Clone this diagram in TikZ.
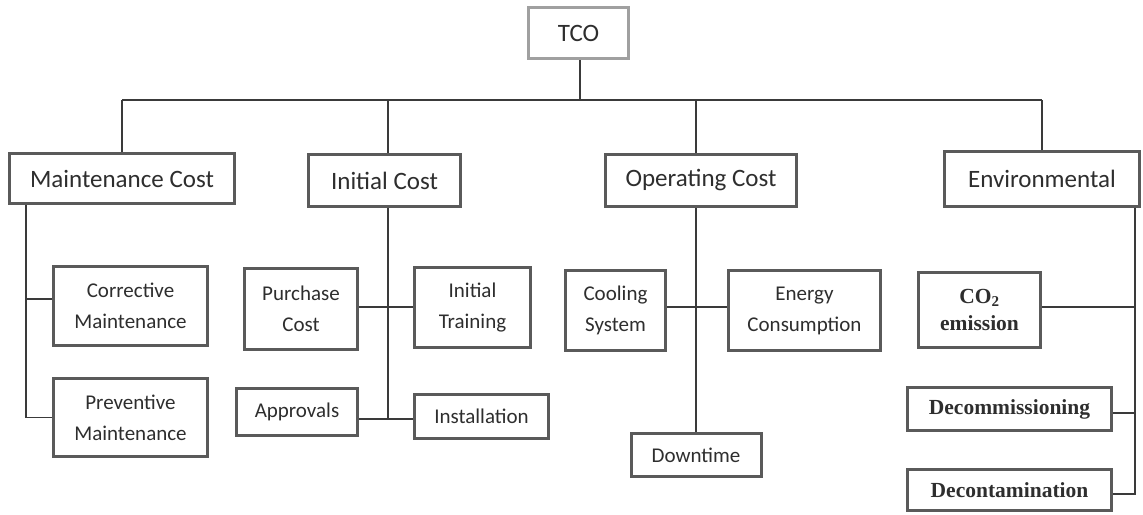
\documentclass[tikz,border=0pt]{standalone}
\usepackage{fontspec}
\setmainfont{Carlito}
\newfontfamily\serifb{Liberation Serif}
\definecolor{boxgray}{HTML}{5A5A5A}
\definecolor{tcogray}{HTML}{A0A0A0}
\definecolor{linec}{HTML}{3A3A3A}
\definecolor{txt}{HTML}{2E2E2E}
\tikzset{
  box/.style={draw=boxgray, line width=3pt, fill=white, inner sep=0pt, align=center, text=txt},
  bx/.style 2 args={minimum width=#1pt-3pt, minimum height=#2pt-3pt},
  big/.style={font=\fontsize{25}{28}\selectfont},
  small/.style={font=\fontsize{21}{31}\selectfont},
  ser/.style={font=\serifb\bfseries\fontsize{21.5}{27}\selectfont},
  conn/.style={draw=linec, line width=1.5pt}
}
\begin{document}
\begin{tikzpicture}[x=1pt,y=-1pt]
\useasboundingbox[fill=white] (0,0) rectangle (1143,514);
% nodes
\node[box,big,bx={103}{54},draw=tcogray] (tco) at (578.5,33) {TCO};
\node[box,big,bx={228}{53}] (mc) at (122,178.5) {Maintenance Cost};
\node[box,big,bx={155}{55}] (ic) at (384.5,180.5) {Initial Cost};
\node[box,big,bx={194}{55}] (oc) at (701,180.5) {Operating Cost};
\node[box,big,bx={198}{58}] (env) at (1042,179) {Environmental};
\node[box,small,bx={157}{82}] (corr) at (130.5,306) {Corrective\\Maintenance};
\node[box,small,bx={157}{81}] (prev) at (130.5,417.5) {Preventive\\Maintenance};
\node[box,small,bx={116}{84}] (purch) at (301,309) {Purchase\\Cost};
\node[box,small,bx={119}{83}] (train) at (472.5,307.5) {Initial\\Training};
\node[box,small,bx={124}{50}] (appr) at (297,412) {Approvals};
\node[box,small,bx={137}{47}] (inst) at (481.5,416.5) {Installation};
\node[box,small,bx={103}{83}] (cool) at (615.5,310.5) {Cooling\\System};
\node[box,small,bx={155}{83}] (energy) at (804.5,310.5) {Energy\\Consumption};
\node[box,small,bx={133}{46}] (down) at (696,455) {Downtime};
\node[box,ser,bx={125}{78}] (co2) at (979.5,310) {CO\textsubscript{2}\\emission};
\node[box,ser,bx={207}{46}] (decom) at (1009.5,409) {Decommissioning};
\node[box,ser,bx={207}{44}] (decon) at (1009.5,490) {Decontamination};
% coordinates
\coordinate (busL) at (122,100);
\coordinate (busR) at (1042,100);
\coordinate (bT) at (580,100);
\coordinate (bI) at (388,100);
\coordinate (bO) at (696,100);
\coordinate (mspine) at (26,417.5);
\coordinate (mbr) at (26,299);
\coordinate (ispine) at (388,419);
\coordinate (ibr) at (388,307);
\coordinate (obr) at (696,307);
\coordinate (espine) at (1135,494);
\coordinate (ebr1) at (1135,307);
\coordinate (ebr2) at (1135,413);
% connectors
\draw[conn] (tco.south -| bT) -- (bT);
\draw[conn] (busL) -- (busR);
\draw[conn] (busL) -- (mc.north);
\draw[conn] (bI) -- (bI |- ic.north);
\draw[conn] (bO) -- (bO |- oc.north);
\draw[conn] (busR) -- (env.north);
% maintenance
\draw[conn] (mspine |- mc.south) -- (mspine) -- (prev.west);
\draw[conn] (mbr) -- (corr.west |- mbr);
% initial
\draw[conn] (ispine |- ic.south) -- (ispine);
\draw[conn] (purch.east |- ibr) -- (train.west |- ibr);
\draw[conn] (appr.east |- ispine) -- (inst.west |- ispine);
% operating
\draw[conn] (down.north |- oc.south) -- (down.north);
\draw[conn] (cool.east |- obr) -- (energy.west |- obr);
% environmental
\draw[conn] (espine |- env.south) -- (espine) -- (decon.east |- espine);
\draw[conn] (co2.east |- ebr1) -- (ebr1);
\draw[conn] (decom.east |- ebr2) -- (ebr2);
\end{tikzpicture}
\end{document}
